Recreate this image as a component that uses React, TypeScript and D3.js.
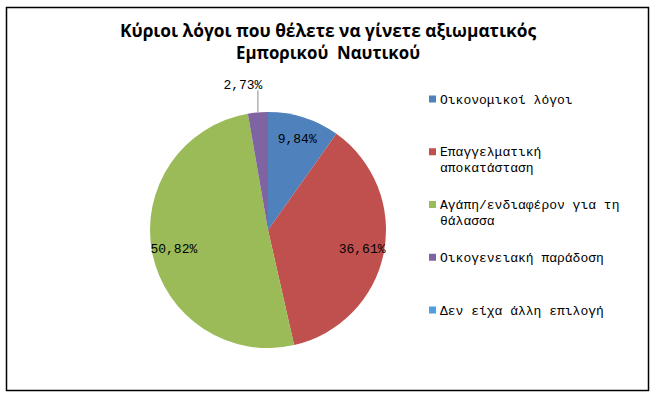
import * as d3 from "d3";

const categories = [
  "Οικονομικοί λόγοι",
  "Επαγγελματική αποκατάσταση",
  "Αγάπη/ενδιαφέρον για τη θάλασσα",
  "Οικογενειακή παράδοση",
  "Δεν είχα άλλη επιλογή",
];
const values = [9.84, 36.61, 50.82, 2.73, 0];
const labels = ["9,84%", "36,61%", "50,82%", "2,73%", ""];
// legend text, wrapped as in the original
const legendLines = [
  ["Οικονομικοί λόγοι"],
  ["Επαγγελματική", "αποκατάσταση"],
  ["Αγάπη/ενδιαφέρον για τη", "θάλασσα"],
  ["Οικογενειακή παράδοση"],
  ["Δεν είχα άλλη επιλογή"],
];
const colors = ["#4F81BD", "#C0504D", "#9BBB59", "#8064A2", "#4F9FE0"];
const titleLines = ["Κύριοι λόγοι που θέλετε να γίνετε αξιωματικός", "Εμπορικού\u00a0\u00a0Ναυτικού"];

const W = 657;
const H = 398;
const mono = "'Liberation Mono', 'DejaVu Sans Mono', monospace";

export default function App() {
  const cx = 268;
  const cy = 230;
  const r = 118;

  const pie = d3.pie<number>().sort(null).value((d) => d);
  const arcs = pie(values);
  const arc = d3.arc<d3.PieArcDatum<number>>().innerRadius(0).outerRadius(r);
  const labelArc = d3.arc<d3.PieArcDatum<number>>().innerRadius(96).outerRadius(96);

  const legendY = d3.scalePoint<number>().domain(d3.range(categories.length)).range([99, 310]);

  return (
    <svg
      width={W}
      height={H}
      style={{ position: "absolute", left: 0, top: 0, background: "#fff" }}
    >
      <rect x={6.5} y={7.5} width={642} height={383} fill="#fff" stroke="#000" strokeWidth={1.5} />
      <g fontFamily="'Open Sans', 'Liberation Sans', Arial, sans-serif" fontWeight="bold" fontSize={17} textAnchor="middle" fill="#000">
        <text x={328} y={37} textLength={416} lengthAdjust="spacingAndGlyphs">{titleLines[0]}</text>
        <text x={328} y={59} textLength={184} lengthAdjust="spacingAndGlyphs">{titleLines[1]}</text>
      </g>

      <g transform={`translate(${cx},${cy})`}>
        {arcs.map((a, i) => (
          <path key={i} d={arc(a) || ""} fill={colors[i]} />
        ))}
        {arcs.map((a, i) => {
          if (!labels[i]) return null;
          if (a.endAngle - a.startAngle < 0.3) {
            // small slice: outside label with leader line
            const mid = (a.startAngle + a.endAngle) / 2;
            const ex = Math.sin(mid) * r;
            const ey = -Math.cos(mid) * r;
            return (
              <g key={"l" + i}>
                <line x1={ex} y1={ey} x2={ex} y2={ey - 22} stroke="#8c8c8c" strokeWidth={1} />
                <text x={ex - 15} y={ey - 23} textAnchor="middle" fontFamily={mono} fontSize={13} fill="#000">
                  {labels[i]}
                </text>
              </g>
            );
          }
          const [lx, ly] = labelArc.centroid(a);
          return (
            <text key={"l" + i} x={lx} y={ly} dy="0.35em" textAnchor="middle" fontFamily={mono} fontSize={13} fill="#000">
              {labels[i]}
            </text>
          );
        })}
      </g>

      <g fontFamily={mono} fontSize={13} fill="#000">
        {categories.map((c, i) => {
          const y = legendY(i) as number;
          return (
            <g key={c}>
              <rect x={429} y={y - 3.5} width={7} height={7} fill={colors[i]} />
              {legendLines[i].map((t, j) => (
                <text key={j} x={440} y={y + j * 16} dy="0.35em">
                  {t}
                </text>
              ))}
            </g>
          );
        })}
      </g>
    </svg>
  );
}
